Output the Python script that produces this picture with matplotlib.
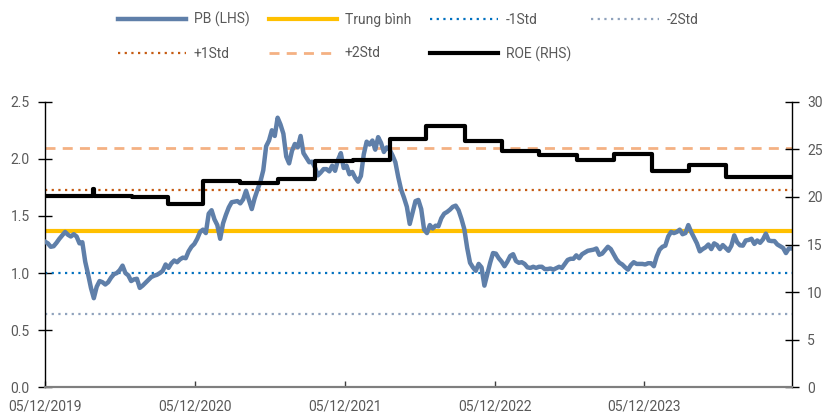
import matplotlib
matplotlib.use('Agg')
import matplotlib.pyplot as plt
import pandas as pd

# ---------------- data ----------------
pb_start = '2019-12-05'
pb_values = [
    1.275, 1.26, 1.23, 1.235, 1.265, 1.30, 1.33, 1.36, 1.335, 1.32,
    1.34, 1.32, 1.26, 1.27, 1.10, 0.99, 0.87, 0.78, 0.88, 0.93,
    0.92, 0.90, 0.92, 0.96, 0.99, 1.00, 1.025, 1.065, 1.00, 0.98,
    0.93, 0.945, 0.95, 0.87, 0.89, 0.915, 0.94, 0.965, 0.977, 0.985,
    1.00, 1.02, 1.075, 1.045, 1.085, 1.11, 1.095, 1.12, 1.135, 1.13,
    1.19, 1.23, 1.255, 1.30, 1.36, 1.38, 1.35, 1.52, 1.55, 1.47,
    1.42, 1.30, 1.435, 1.51, 1.575, 1.62, 1.625, 1.63, 1.61, 1.645,
    1.72, 1.64, 1.56, 1.655, 1.73, 1.80, 1.90, 2.11, 2.16, 2.25,
    2.20, 2.36, 2.30, 2.22, 2.02, 1.96, 2.07, 2.13, 2.10, 2.20,
    2.05, 2.01, 1.97, 1.975, 1.925, 1.855, 1.88, 1.91, 1.91, 1.89,
    1.94, 1.895, 1.99, 2.05, 1.92, 1.94, 1.865, 1.885, 1.835, 1.80,
    1.85, 2.04, 2.15, 2.125, 2.16, 2.08, 2.19, 2.14, 2.06, 2.10,
    2.08, 2.03, 1.97, 1.84, 1.73, 1.66, 1.58, 1.43, 1.53, 1.63,
    1.64, 1.56, 1.38, 1.35, 1.42, 1.39, 1.415, 1.41, 1.48, 1.52,
    1.535, 1.555, 1.58, 1.59, 1.55, 1.475, 1.385, 1.22, 1.09, 1.05,
    1.02, 1.08, 1.05, 0.89, 0.99, 1.09, 1.175, 1.17, 1.13, 1.10,
    1.06, 1.10, 1.15, 1.165, 1.105, 1.09, 1.095, 1.08, 1.05, 1.045,
    1.055, 1.045, 1.055, 1.055, 1.035, 1.035, 1.04, 1.03, 1.042, 1.055,
    1.045, 1.08, 1.115, 1.125, 1.125, 1.155, 1.13, 1.165, 1.18, 1.195,
    1.20, 1.205, 1.215, 1.16, 1.17, 1.20, 1.23, 1.21, 1.165, 1.12,
    1.09, 1.075, 1.05, 1.03, 1.07, 1.095, 1.08, 1.08, 1.08, 1.075,
    1.086, 1.086, 1.06, 1.145, 1.205, 1.23, 1.24, 1.32, 1.36, 1.35,
    1.36, 1.38, 1.34, 1.35, 1.42, 1.36, 1.31, 1.26, 1.19, 1.21,
    1.225, 1.25, 1.21, 1.26, 1.245, 1.21, 1.245, 1.22, 1.195, 1.24,
    1.33, 1.27, 1.243, 1.24, 1.285, 1.29, 1.30, 1.255, 1.285, 1.265,
    1.295, 1.345, 1.285, 1.28, 1.28, 1.25, 1.235, 1.22, 1.175, 1.215, 1.215,
]

roe_dates = ['2019-12-05', '2020-03-30', '2020-04-02', '2020-07-03', '2020-09-30',
             '2020-12-23', '2021-03-25', '2021-06-25', '2021-09-22', '2021-12-25',
             '2022-03-24', '2022-06-21', '2022-09-23', '2022-12-24', '2023-03-23',
             '2023-06-24', '2023-09-23', '2023-12-23', '2024-03-22', '2024-06-21',
             '2024-11-28']
roe_values = [20.1, 20.8, 20.1, 20.0, 19.25,
              21.7, 21.5, 21.85, 23.8, 23.9,
              26.05, 27.4, 25.9, 24.8, 24.4,
              23.9, 24.5, 22.75, 23.35, 22.05,
              22.05]

pb_mean = 1.366
pb_std = 0.364

tick_dates = ['2019-12-05', '2020-12-05', '2021-12-05', '2022-12-05', '2023-12-05']
tick_labels = ['05/12/2019', '05/12/2020', '05/12/2021', '05/12/2022', '05/12/2023']
left_ticks = [0.0, 0.5, 1.0, 1.5, 2.0, 2.5]
right_ticks = [0, 5, 10, 15, 20, 25, 30]

labels = ['PB (LHS)', 'Trung bình', '-1Std', '-2Std', '+1Std', '+2Std', 'ROE (RHS)']

# ---------------- style ----------------
plt.rcParams['font.family'] = ['Roboto', 'DejaVu Sans']
TXT = '#595959'
C_PB = '#5F7FA9'
C_MEAN = '#FFC000'
C_M1 = '#0070C0'
C_M2 = '#8FA2BC'
C_P1 = '#C55A11'
C_P2 = '#F4B183'

dates = pd.date_range(pb_start, periods=len(pb_values), freq='7D')
roe_d = pd.to_datetime(roe_dates)

fig = plt.figure(figsize=(8.24, 4.18), dpi=100)
ax = fig.add_axes([45 / 824, 1 - 387.3 / 418, (791.7 - 45) / 824, (387.3 - 101.7) / 418])
ax2 = ax.twinx()

h_mean = ax.axhline(pb_mean, color=C_MEAN, lw=3, zorder=2)
h_m1 = ax.axhline(pb_mean - pb_std, color=C_M1, lw=1.6, ls=(0, (1, 2)), zorder=2)
h_m2 = ax.axhline(pb_mean - 2 * pb_std, color=C_M2, lw=1.6, ls=(0, (1, 2)), zorder=2)
h_p1 = ax.axhline(pb_mean + pb_std, color=C_P1, lw=1.6, ls=(0, (1, 2)), zorder=2)
h_p2 = ax.axhline(pb_mean + 2 * pb_std, color=C_P2, lw=2, ls=(0, (3.6, 2.6)), zorder=2)
h_pb, = ax.plot(dates, pb_values, color=C_PB, lw=3.2, zorder=3, solid_joinstyle='round')
h_roe, = ax2.plot(roe_d, roe_values, color='black', lw=3, drawstyle='steps-post', zorder=4)

ax.set_xlim(pd.Timestamp('2019-12-05'), pd.Timestamp('2024-11-28'))
ax.set_ylim(0, 2.5)
ax2.set_ylim(0, 30)

ax.set_xticks(pd.to_datetime(tick_dates))
ax.set_xticklabels(tick_labels)
ax.set_yticks(left_ticks)
ax.set_yticklabels([f'{v:.1f}' for v in left_ticks])
ax2.set_yticks(right_ticks)
ax2.set_yticklabels([str(v) for v in right_ticks])

for a in (ax, ax2):
    a.spines['top'].set_visible(False)
    a.spines['bottom'].set_color('#7F7F7F')
    a.spines['bottom'].set_linewidth(1.5)
    a.spines['left'].set_color('black')
    a.spines['right'].set_color('black')
    a.spines['left'].set_linewidth(1.0)
    a.spines['right'].set_linewidth(1.0)
    a.patch.set_visible(False)

ax.spines['right'].set_visible(False)
ax2.spines['left'].set_visible(False)

ax.tick_params(axis='x', direction='in', length=4, width=1, color='#404040',
               labelsize=10, labelcolor=TXT, pad=9)
ax.tick_params(axis='y', direction='inout', length=10, width=1, color='black',
               labelsize=10, labelcolor=TXT, pad=6)
ax2.tick_params(axis='y', direction='inout', length=10, width=1, color='black',
                labelsize=10, labelcolor=TXT, pad=6)

handles = [h_pb, h_p1, h_mean, h_p2, h_m1, h_roe, h_m2]
leg_labels = [labels[0], labels[4], labels[1], labels[5], labels[2], labels[6], labels[3]]
leg = fig.legend(handles, leg_labels, ncol=4, loc='upper left',
                 bbox_to_anchor=(118 / 824, 1 - 12 / 418), frameon=False,
                 borderpad=0, borderaxespad=0, handlelength=4.9, handletextpad=0.55,
                 columnspacing=1.4, labelspacing=1.4, fontsize=10)
for t in leg.get_texts():
    t.set_color(TXT)

fig.savefig('out.png', dpi=100)
